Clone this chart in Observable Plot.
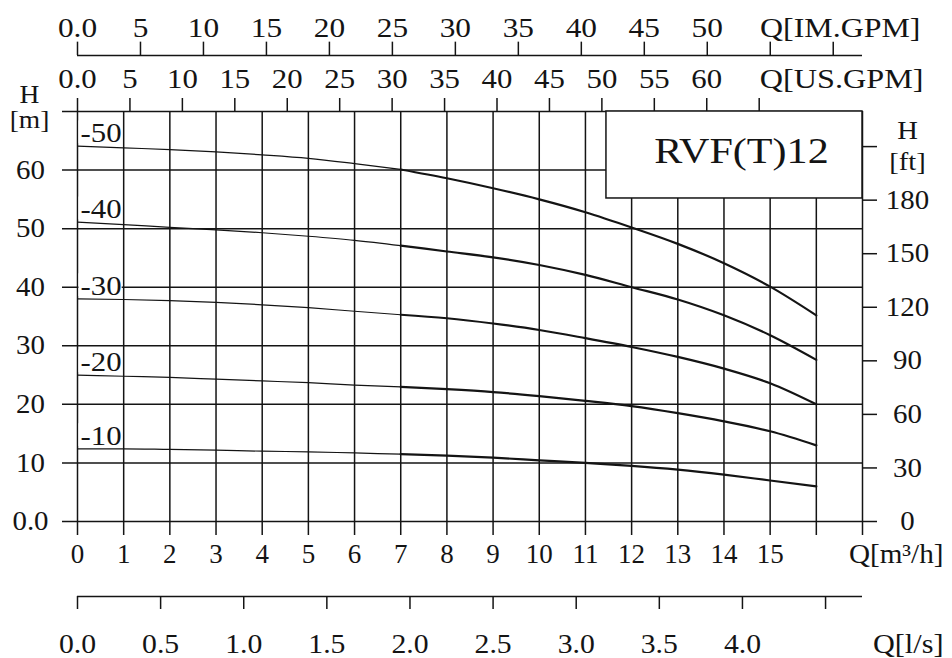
<!DOCTYPE html>
<html><head><meta charset="utf-8">
<script src="https://cdn.jsdelivr.net/npm/d3@7"></script>
<script src="https://cdn.jsdelivr.net/npm/@observablehq/plot@0.6"></script>
<style>body{margin:0;background:#fff} svg{display:block}</style>
</head><body><div id="chart"></div>
<script>
// ---- data ----
const flowM3h = [0,1,2,3,4,5,6,7,8,9,10,11,12,13,14,15,16];
const curveNames = ["-50","-40","-30","-20","-10"];
const head50 = [64.1,63.8,63.5,63.1,62.6,62.0,61.1,60.1,58.6,56.9,55.0,52.8,50.2,47.4,44.1,40.1,35.2];
const head40 = [51.1,50.7,50.2,49.8,49.3,48.7,48.0,47.1,46.1,45.1,43.8,42.1,40.0,37.9,35.2,31.8,27.6];
const head30 = [38.0,37.9,37.7,37.4,37.0,36.5,35.9,35.3,34.7,33.8,32.7,31.3,29.8,28.1,26.1,23.6,20.0];
const head20 = [25.0,24.8,24.6,24.3,24.0,23.7,23.3,23.0,22.6,22.1,21.4,20.6,19.7,18.5,17.1,15.4,13.0];
const head10 = [12.4,12.4,12.3,12.2,12.0,11.9,11.7,11.5,11.25,10.9,10.45,10.0,9.5,8.85,8.0,7.0,6.0];
const headSeries = [head50, head40, head30, head20, head10];

const qTicks = [0,1,2,3,4,5,6,7,8,9,10,11,12,13,14,15,16,17];
const qLabels = ["0","1","2","3","4","5","6","7","8","9","10","11","12","13","14","15"];
const hTicks = [0,10,20,30,40,50,60,70];
const hLabels = ["0.0","10","20","30","40","50","60"];
const ftTicks = [0,30,60,90,120,150,180,210];
const ftLabels = ["0","30","60","90","120","150","180"];
const usTicks = [0,5,10,15,20,25,30,35,40,45,50,55,60,65];
const usLabels = ["0.0","5","10","15","20","25","30","35","40","45","50","55","60"];
const imTicks = [0,5,10,15,20,25,30,35,40,45,50,55,60];
const imLabels = ["0.0","5","10","15","20","25","30","35","40","45","50"];
const lsTicks = [0,0.5,1.0,1.5,2.0,2.5,3.0,3.5,4.0,4.5];
const lsLabels = ["0.0","0.5","1.0","1.5","2.0","2.5","3.0","3.5","4.0"];
const modelName = "RVF(T)12";

// unit conversions
const M3H_PER_USGPM = 0.22712, M3H_PER_IMGPM = 0.27277, M3H_PER_LS = 3.6, M_PER_FT = 0.3048;

// ---- layout (in scale units) ----
const QMAX = 17, HMAX = 70;
const band = {imLine: 79.56, imTick: 81.84, imText: 84.3, usTick: 72.22, usText: 75.6,
              qTick: -2.39, qText: -5.6, lsLine: -12.81, lsTick: -15.02, lsText: -21.0};
const box = {q1: 11.455, q2: 17, h1: 55.15, h2: 70, tq: 14.38, th: 63.1};
const ink = "#141414";
const font = "'Liberation Serif','Times New Roman',serif";

const rows = [];
headSeries.forEach((hs, k) => hs.forEach((h, i) => {
  const q = flowM3h[i];
  if (q <= 7) rows.push({name: curveNames[k], seg: curveNames[k] + "a", q, h});
  if (q >= 7) rows.push({name: curveNames[k], seg: curveNames[k] + "b", q, h});
}));
const starts = headSeries.map((hs, k) => ({name: curveNames[k], q: flowM3h[0], h: hs[0]}));

const tx = {fill: ink, fontFamily: font};
const rule = {stroke: ink, strokeWidth: 1.5};
const sx = (s) => ({ariaDescription: "sx" + s});

const chart = Plot.plot({
  width: 952, height: 658,
  marginLeft: 77, marginRight: 90, marginTop: 111, marginBottom: 137,
  x: {domain: [0, QMAX], axis: null},
  y: {domain: [0, HMAX], axis: null},
  style: {fontFamily: font, background: "white", color: ink},
  marks: [
    Plot.ruleX(qTicks, {x: d => d, y1: band.qTick, y2: HMAX, ...rule}),
    Plot.ruleY(hTicks, {y: d => d, x1: -0.325, x2: QMAX, ...rule}),
    Plot.rect(starts, {x1: 0, x2: 1, y1: d => d.h + 0.4, y2: d => d.h + 4.3, insetLeft: 1.5, insetRight: 1.5, fill: "white"}),
    // model box
    Plot.rect([modelName], {x1: box.q1, x2: box.q2, y1: box.h1, y2: box.h2, fill: "white", ...rule}),
    Plot.text([modelName], {x: box.tq, y: box.th, text: d => d, fontSize: 36, ...tx, ...sx(1.17)}),
    // curves
    Plot.line(rows.filter(r => r.seg.endsWith("a")), {x: "q", y: "h", z: "seg", stroke: ink, strokeWidth: 1.2, curve: "monotone-x"}),
    Plot.line(rows.filter(r => r.seg.endsWith("b")), {x: "q", y: "h", z: "seg", stroke: ink, strokeWidth: 2.2, curve: "monotone-x"}),
    Plot.text(starts, {x: "q", y: "h", text: "name", dx: 3, dy: -13, textAnchor: "start", fontSize: 28, ...tx, ...sx(1.1)}),
    // left axis labels
    Plot.text(hLabels, {x: 0, y: (d, i) => hTicks[i], dx: -47, text: d => d, fontSize: 27, ...tx, ...sx(1.07)}),
    Plot.text(["H"], {x: 0, y: 72.9, dx: -48, text: d => d, fontSize: 25, ...tx, ...sx(1.1)}),
    Plot.text(["[m]"], {x: 0, y: 68.5, dx: -48, text: d => d, fontSize: 25, ...tx, ...sx(1.1)}),
    // right ft axis
    Plot.ruleY(ftTicks, {y: d => d * M_PER_FT, x1: QMAX, x2: QMAX + 0.325, ...rule}),
    Plot.text(ftLabels, {x: QMAX, y: (d, i) => ftTicks[i] * M_PER_FT, dx: 45, text: d => d, fontSize: 27, ...tx, ...sx(1.07)}),
    Plot.text(["H"], {x: QMAX, y: 66.76, dx: 45, text: d => d, fontSize: 26, ...tx, ...sx(1.1)}),
    Plot.text(["[ft]"], {x: QMAX, y: 61.35, dx: 45, text: d => d, fontSize: 26, ...tx, ...sx(1.1)}),
    // bottom m3/h labels
    Plot.text(qLabels, {x: (d, i) => qTicks[i], y: band.qText, text: d => d, fontSize: 27, ...tx}),
    Plot.text(["Q[m³/h]"], {x: QMAX, y: band.qText, dx: 81, textAnchor: "end", text: d => d, fontSize: 27, ...tx, ...sx(1.08)}),
    // l/s axis
    Plot.ruleY([band.lsLine], {y: d => d, x1: 0, x2: QMAX, ...rule}),
    Plot.ruleX(lsTicks, {x: d => d * M3H_PER_LS, y1: band.lsLine, y2: band.lsTick, ...rule}),
    Plot.text(lsLabels, {x: (d, i) => lsTicks[i] * M3H_PER_LS, y: band.lsText, text: d => d, fontSize: 27, ...tx, ...sx(1.1)}),
    Plot.text(["Q[l/s]"], {x: QMAX, y: band.lsText, dx: 81, textAnchor: "end", text: d => d, fontSize: 27, ...tx, ...sx(1.12)}),
    // US GPM axis
    Plot.ruleX(usTicks, {x: d => d * M3H_PER_USGPM, y1: HMAX, y2: band.usTick, ...rule}),
    Plot.text(usLabels, {x: (d, i) => usTicks[i] * M3H_PER_USGPM, y: band.usText, text: d => d, fontSize: 28, ...tx, ...sx(1.1)}),
    Plot.text(["Q[US.GPM]"], {x: QMAX, y: band.usText, dx: 61, textAnchor: "end", text: d => d, fontSize: 28, ...tx, ...sx(1.15)}),
    // IM GPM axis
    Plot.ruleY([band.imLine], {y: d => d, x1: 0, x2: QMAX, ...rule}),
    Plot.ruleX(imTicks, {x: d => d * M3H_PER_IMGPM, y1: band.imLine, y2: band.imTick, ...rule}),
    Plot.text(imLabels, {x: (d, i) => imTicks[i] * M3H_PER_IMGPM, y: band.imText, text: d => d, fontSize: 28, ...tx, ...sx(1.12)}),
    Plot.text(["Q[IM.GPM]"], {x: QMAX, y: band.imText, dx: 58, textAnchor: "end", text: d => d, fontSize: 28, ...tx, ...sx(1.14)})
  ]
});

// stretch serif glyphs horizontally around their anchors (reference type is wide)
d3.select(chart).selectAll("g[aria-description^='sx']").each(function() {
  const s = +this.getAttribute("aria-description").slice(2);
  d3.select(this).selectAll("text").each(function() {
    const t = d3.select(this);
    const tr = t.attr("transform") || "";
    t.attr("transform", `${tr} scale(${s},1)`);
  });
});
document.getElementById("chart").appendChild(chart);
</script>
</body></html>
